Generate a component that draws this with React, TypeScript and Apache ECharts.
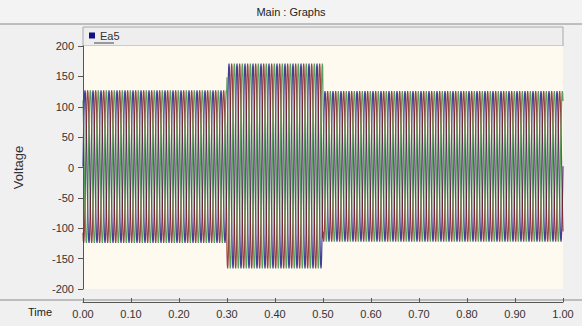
import React, { useEffect, useRef } from "react";
import * as echarts from "echarts";

// Voltage waveform description
const seriesNames = ["Ea5", "Ea5 b", "Ea5 c"];
const phaseColors = ["#101080", "#801818", "#2e8b3a"];
const phaseShiftDeg = [0, -120, 120];
const frequencyHz = 60;
const segmentStart = [0, 0.3, 0.5];
const segmentEnd = [0.3, 0.5, 1.0];
const peakUp = [127, 171, 126];
const peakDown = [-124, -166, -122];
const samplesPerCycle = 24;

function buildPhase(p: number): number[][] {
  const out: number[][] = [];
  const total = Math.round(frequencyHz * samplesPerCycle * 1.0);
  for (let i = 0; i <= total; i++) {
    const t = i / (frequencyHz * samplesPerCycle);
    let s = 0;
    for (let k = 0; k < segmentStart.length; k++) {
      if (t >= segmentStart[k] && t <= segmentEnd[k]) s = k;
    }
    const mid = (peakUp[s] + peakDown[s]) / 2;
    const amp = (peakUp[s] - peakDown[s]) / 2;
    const v = mid + amp * Math.sin(2 * Math.PI * frequencyHz * t + (phaseShiftDeg[p] * Math.PI) / 180);
    out.push([t, +v.toFixed(2)]);
  }
  return out;
}

export default function App() {
  const ref = useRef<HTMLDivElement>(null);
  useEffect(() => {
    if (!ref.current) return;
    const chart = echarts.init(ref.current, null, { renderer: "svg" });
    const font = "'Liberation Sans', Arial, sans-serif";
    chart.setOption({
      animation: false,
      backgroundColor: "#f0f0f0",
      grid: {
        left: 83,
        top: 46,
        width: 480,
        height: 243,
        show: true,
        backgroundColor: "#fffaef",
        borderWidth: 0,
      },
      legend: {
        data: [seriesNames[0]],
        left: 84,
        top: 25,
        itemWidth: 6,
        itemHeight: 6,
        itemGap: 4,
        icon: "rect",
        textStyle: { fontFamily: font, fontSize: 11, color: "#333" },
      },
      xAxis: {
        type: "value",
        min: 0,
        max: 1,
        interval: 0.1,
        position: "bottom",
        offset: 13,
        axisLine: { show: true, onZero: false, lineStyle: { color: "#555", width: 1 } },
        axisTick: { show: true, inside: true, length: 4, lineStyle: { color: "#555" } },
        axisLabel: {
          fontFamily: font,
          fontSize: 11,
          color: "#333",
          margin: 6,
          formatter: (v: number) => v.toFixed(2),
        },
        splitLine: { show: false },
      },
      yAxis: {
        type: "value",
        min: -200,
        max: 200,
        interval: 50,
        name: "Voltage",
        nameLocation: "middle",
        nameGap: 58,
        nameRotate: 90,
        nameTextStyle: { fontFamily: font, fontSize: 13, color: "#333" },
        axisLine: { show: true, onZero: false, lineStyle: { color: "#555", width: 1 } },
        axisTick: { show: true, length: 5, lineStyle: { color: "#555" } },
        axisLabel: { fontFamily: font, fontSize: 11, color: "#333", margin: 9 },
        splitLine: { show: false },
      },
      graphic: [
        { type: "rect", shape: { x: 0, y: 0, width: 582, height: 24 }, style: { fill: "#f3f3f3" }, silent: true },
        { type: "line", shape: { x1: 0, y1: 24, x2: 582, y2: 24 }, style: { stroke: "#8a8a8a", lineWidth: 1 }, silent: true },
        {
          type: "text",
          x: 291,
          y: 12,
          style: { text: "Main : Graphs", fontFamily: font, fontSize: 11, fill: "#222", align: "center", verticalAlign: "middle" },
          silent: true,
        },
        {
          type: "rect",
          shape: { x: 83, y: 27, width: 480, height: 19 },
          style: { fill: "#eeeeee", stroke: "#a8a8a8", lineWidth: 1 },
          silent: true,
          z: -1,
        },
        { type: "line", shape: { x1: 94, y1: 43, x2: 114, y2: 43 }, style: { stroke: "#444", lineWidth: 1 }, silent: true },
        { type: "line", shape: { x1: 0, y1: 300, x2: 582, y2: 300 }, style: { stroke: "#8a8a8a", lineWidth: 1 }, silent: true },
        {
          type: "text",
          x: 40,
          y: 312,
          style: { text: "Time", fontFamily: font, fontSize: 11, fill: "#222", align: "center", verticalAlign: "middle" },
          silent: true,
        },
      ],
      series: seriesNames.map((n, p) => ({
        name: n,
        type: "line",
        data: buildPhase(p),
        showSymbol: false,
        symbol: "none",
        lineStyle: { color: phaseColors[p], width: 1.2, opacity: 0.8 },
        itemStyle: { color: phaseColors[p] },
        emphasis: { disabled: true },
      })),
    });
    return () => chart.dispose();
  }, []);
  return <div ref={ref} style={{ position: "fixed", left: 0, top: 0, width: 582, height: 326 }} />;
}
